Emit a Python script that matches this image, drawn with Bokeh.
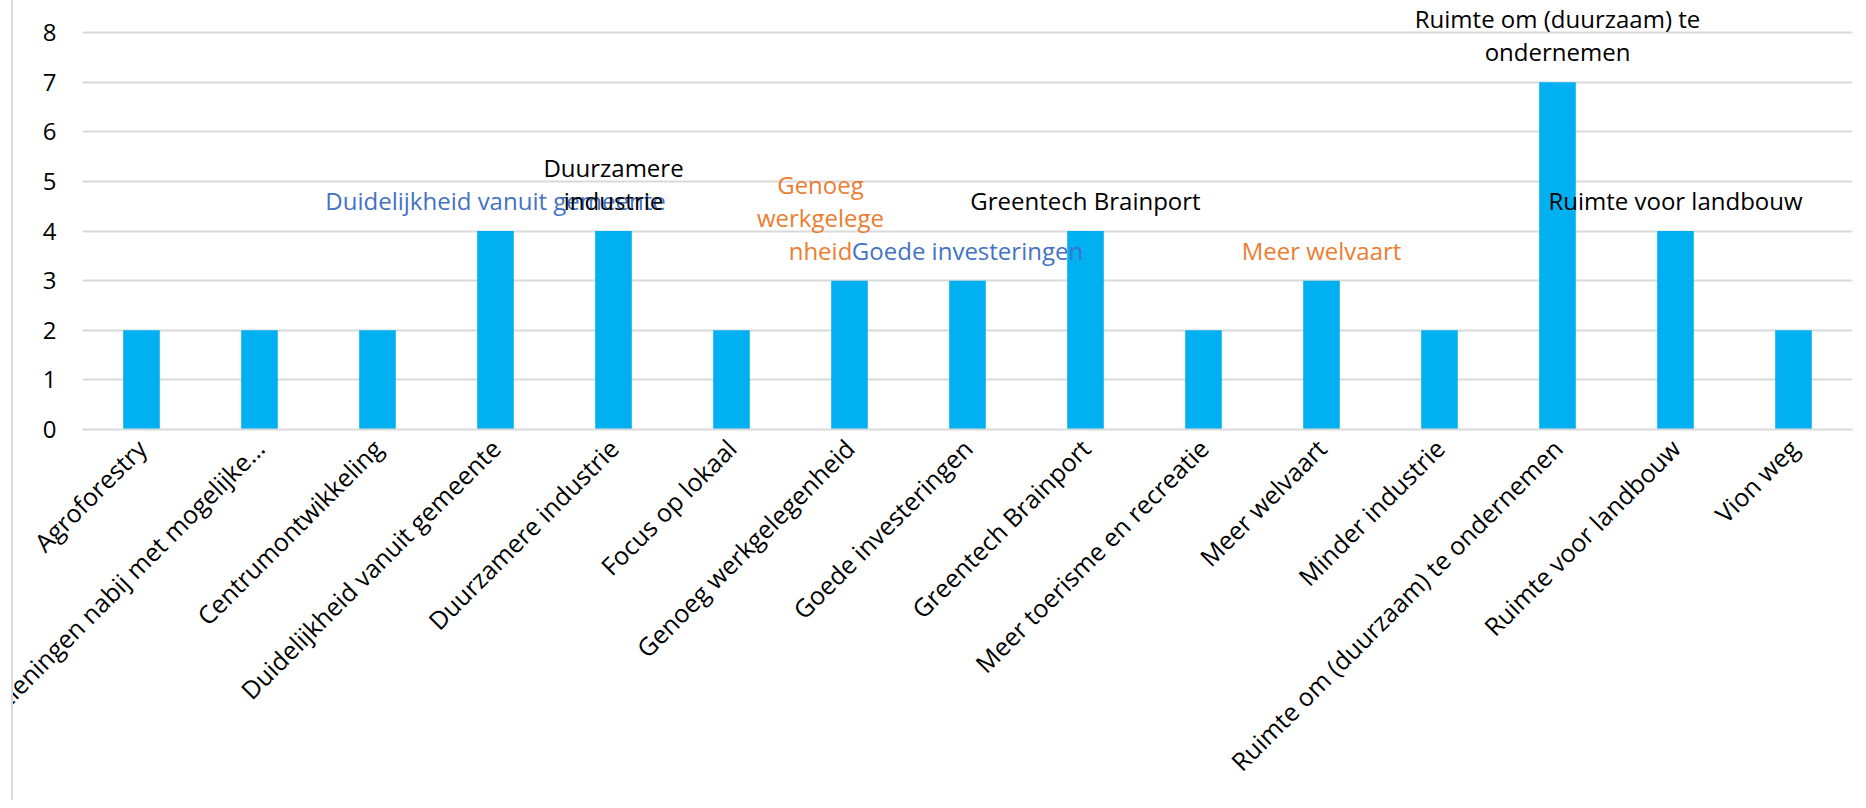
import math
from bokeh.plotting import figure
from bokeh.layouts import row
from bokeh.models import ColumnDataSource, FactorRange, Range1d, FixedTicker, Spacer
from bokeh.core.properties import value
from bokeh.embed import file_html
from bokeh.resources import INLINE

categories = [
    "Agroforestry",
    "Voorzieningen nabij met mogelijke…",
    "Centrumontwikkeling",
    "Duidelijkheid vanuit gemeente",
    "Duurzamere industrie",
    "Focus op lokaal",
    "Genoeg werkgelegenheid",
    "Goede investeringen",
    "Greentech Brainport",
    "Meer toerisme en recreatie",
    "Meer welvaart",
    "Minder industrie",
    "Ruimte om (duurzaam) te ondernemen",
    "Ruimte voor landbouw",
    "Vion weg",
]
counts = [2, 2, 2, 4, 4, 2, 3, 3, 4, 2, 3, 2, 7, 4, 2]
y_ticks = [0, 1, 2, 3, 4, 5, 6, 7, 8]

# data labels shown above some bars
label_categories = [
    "Duidelijkheid vanuit gemeente",
    "Duurzamere industrie",
    "Genoeg werkgelegenheid",
    "Goede investeringen",
    "Greentech Brainport",
    "Meer welvaart",
    "Ruimte om (duurzaam) te ondernemen",
    "Ruimte voor landbouw",
]
label_texts = [
    "Duidelijkheid vanuit gemeente",
    "Duurzamere\nindustrie",
    "Genoeg\nwerkgelege\nnheid",
    "Goede investeringen",
    "Greentech Brainport",
    "Meer welvaart",
    "Ruimte om (duurzaam) te\nondernemen",
    "Ruimte voor landbouw",
]
label_colors = ["#4472C4", "#000000", "#ED7D31", "#4472C4", "#000000", "#ED7D31", "#000000", "#000000"]
label_x_shift = [0, 0, -29, 0, 0, 0, 0, 0]

FONT = "Open Sans"
FS = "24px"

W, H = 1845, 800
p = figure(
    x_range=FactorRange(*categories),
    y_range=Range1d(0, 8 + 32 / 49.6),
    width=W,
    height=H,
    output_backend="svg",
    toolbar_location=None,
    min_border_left=69,
    min_border_right=6,
    min_border_top=0,
    min_border_bottom=H - 429,
)
p.outline_line_color = None
p.background_fill_color = "white"
p.border_fill_color = "white"

p.vbar(x=categories, top=counts, width=0.31, color="#00B0F0", line_color=None)

label_values = [counts[categories.index(c)] for c in label_categories]
src = ColumnDataSource(dict(x=label_categories, y=label_values, text=label_texts,
                            color=label_colors, xo=label_x_shift))
p.text(x="x", y="y", text="text", source=src, text_color="color", x_offset="xo",
       y_offset=-14, text_align="center", text_baseline="bottom",
       text_font=value(FONT), text_font_size=value(FS), text_line_height=1.0)

p.xgrid.grid_line_color = None
p.ygrid.grid_line_color = "#d9d9d9"
p.ygrid.grid_line_width = 2
p.yaxis.ticker = FixedTicker(ticks=y_ticks)

p.yaxis.axis_line_color = None
p.yaxis.major_tick_line_color = None
p.yaxis.minor_tick_line_color = None
p.yaxis.major_label_standoff = 20
p.yaxis.major_label_text_font = FONT
p.yaxis.major_label_text_font_size = FS
p.yaxis.major_label_text_color = "#000000"

p.xaxis.axis_line_color = "#d9d9d9"
p.xaxis.axis_line_width = 2
p.xaxis.major_tick_line_color = None
p.xaxis.minor_tick_line_color = None
p.xaxis.major_label_orientation = math.pi / 4
p.xaxis.major_label_standoff = 8
p.xaxis.major_label_text_font = FONT
p.xaxis.major_label_text_font_size = "25px"
p.xaxis.major_label_text_color = "#000000"

# light border line at the left of the chart area
left_pad = Spacer(width=11, height=H)
left_line = Spacer(width=2, height=H, styles={"background-color": "#d9d9d9"})
layout = row(left_pad, left_line, p, spacing=0)

open("out.html", "w").write(file_html(layout, INLINE))
